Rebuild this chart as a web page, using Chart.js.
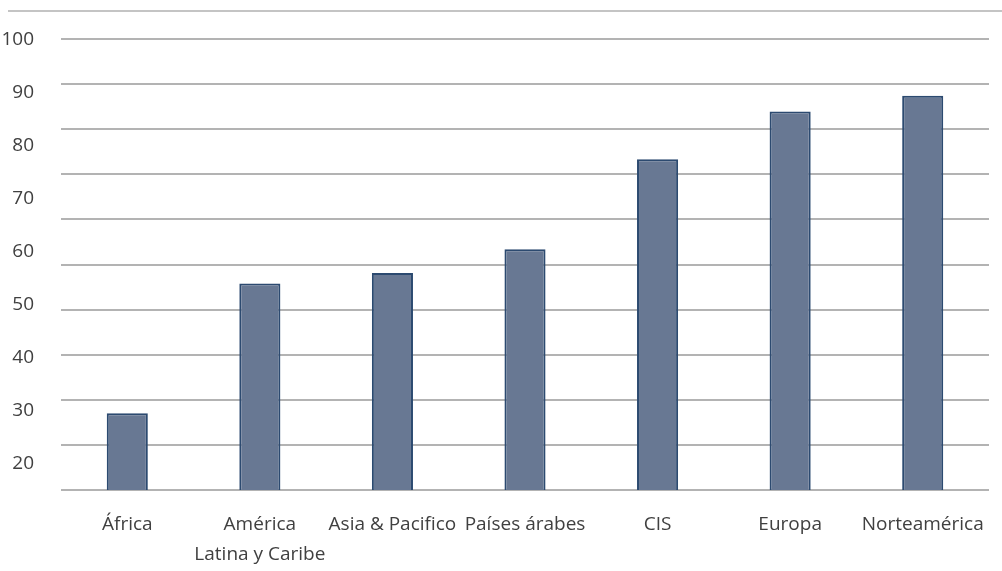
<!DOCTYPE html>
<html>
<head>
<meta charset="utf-8">
<script src="https://cdn.jsdelivr.net/npm/chart.js@4.4.1/dist/chart.umd.min.js"></script>
<style>
  body { margin: 0; background: #fff; }
  #marco { position: relative; width: 1002px; height: 571px; }
  #marco canvas { position: absolute; left: 0; top: 0; }
  #linea { position: absolute; left: 8px; right: 0; top: 10px; border-top: 2px solid #c4c4c4; }
</style>
</head>
<body>
<div id="marco">
  <canvas id="grafico" width="1002" height="571"></canvas>
  <div id="linea"></div>
</div>
<script>
    "use strict";

    // Datos
    var regiones = ["África", ["América", "Latina y Caribe"], "Asia & Pacifico", "Países árabes", "CIS", "Europa", "Norteamérica"];
    var valores = [29.5, 54, 56, 60.5, 77.5, 86.5, 89.5];
    var etiquetasY = [20, 30, 40, 50, 60, 70, 80, 90, 100];

    var fuente = { family: "'Open Sans', sans-serif", size: 19 };
    var gris = "#404040";

    // Grafico de barras
    var ctx = document.getElementById("grafico").getContext("2d");
    var grafico = new Chart(ctx, {
        type: "bar",
        data: {
            labels: regiones,
            datasets: [{
                data: valores,
                yAxisID: "y",
                backgroundColor: "#687893",
                borderColor: "#2c4a70",
                borderWidth: 2,
                barPercentage: 0.31,
                categoryPercentage: 1
            }]
        },
        options: {
            responsive: false,
            animation: false,
            layout: { padding: { top: 39, right: 13, bottom: 0, left: 0 } },
            plugins: {
                legend: { display: false },
                tooltip: { enabled: false }
            },
            scales: {
                x: {
                    grid: { display: false },
                    border: { display: false },
                    afterFit: function (scale) { scale.height = 81; },
                    ticks: {
                        color: gris,
                        font: { family: fuente.family, size: 19, lineHeight: 1.6 },
                        padding: 11,
                        autoSkip: false,
                        minRotation: 0,
                        maxRotation: 0
                    }
                },
                y: {
                    position: "left",
                    min: 15,
                    max: 100.2,
                    grid: { display: false },
                    border: { display: false },
                    afterBuildTicks: function (scale) {
                        scale.ticks = etiquetasY.map(function (v) { return { value: v }; });
                    },
                    afterFit: function (scale) { scale.width = 61; },
                    ticks: { color: gris, font: fuente, padding: 19 }
                },
                rejilla: {
                    position: "left",
                    min: 0,
                    max: 100,
                    grid: { color: "#b3b3b3", lineWidth: 2, drawTicks: false },
                    border: { display: false },
                    ticks: { display: false, stepSize: 10 },
                    afterFit: function (scale) { scale.width = 0; }
                }
            }
        }
    });
</script>
</body>
</html>
